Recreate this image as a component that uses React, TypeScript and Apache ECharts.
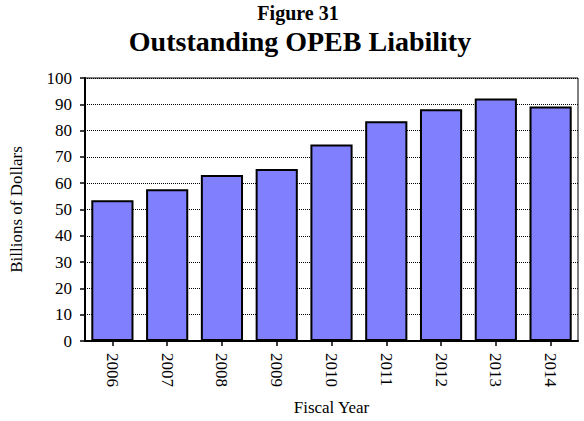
import React, { useEffect, useRef } from "react";
import * as echarts from "echarts";

const categories = ["2006", "2007", "2008", "2009", "2010", "2011", "2012", "2013", "2014"];
const liability = [53.5, 57.7, 63.1, 65.4, 74.7, 83.6, 88.1, 92.2, 89.2];
const yTicks = { min: 0, max: 100, interval: 10 };

const FONT = "'Liberation Serif', 'Times New Roman', serif";

export default function App() {
  const ref = useRef<HTMLDivElement>(null);
  useEffect(() => {
    const chart = echarts.init(ref.current!, undefined, { renderer: "svg" });
    chart.setOption({
      animation: false,
      backgroundColor: "#ffffff",
      textStyle: { fontFamily: FONT },
      graphic: [
        {
          type: "text",
          x: 298,
          y: 13,
          style: {
            text: "Figure 31",
            font: `bold 20px ${FONT}`,
            fill: "#000",
            textAlign: "center",
            textVerticalAlign: "middle",
          },
        },
        {
          type: "text",
          x: 300,
          y: 41,
          style: {
            text: "Outstanding OPEB Liability",
            font: `bold 28px ${FONT}`,
            fill: "#000",
            textAlign: "center",
            textVerticalAlign: "middle",
          },
        },
      ],
      grid: {
        left: 85,
        right: 6,
        top: 78,
        bottom: 74,
        show: true,
        borderColor: "#000",
        borderWidth: 1,
        backgroundColor: "transparent",
      },
      xAxis: {
        type: "category",
        data: categories,
        name: "Fiscal Year",
        nameLocation: "middle",
        nameGap: 58,
        nameTextStyle: { fontFamily: FONT, fontSize: 17, color: "#000" },
        axisLine: { show: true, lineStyle: { color: "#000", width: 2 } },
        axisTick: { show: true, alignWithLabel: true, length: 5, lineStyle: { color: "#000", width: 1.5 } },
        axisLabel: { rotate: -90, margin: 12, fontFamily: FONT, fontSize: 17, color: "#000" },
        splitLine: { show: false },
      },
      yAxis: {
        type: "value",
        min: yTicks.min,
        max: yTicks.max,
        interval: yTicks.interval,
        name: "Billions of Dollars",
        nameLocation: "middle",
        nameGap: 60,
        nameRotate: 90,
        nameTextStyle: { fontFamily: FONT, fontSize: 17, color: "#000" },
        axisLine: { show: true, lineStyle: { color: "#000", width: 2 } },
        axisTick: { show: true, length: 5, lineStyle: { color: "#000", width: 1.5 } },
        axisLabel: { margin: 13, fontFamily: FONT, fontSize: 17, color: "#000" },
        splitLine: { show: true, lineStyle: { color: "#000", width: 1, type: [1, 1] } },
      },
      series: [
        {
          type: "bar",
          data: liability,
          barCategoryGap: "23%",
          itemStyle: { color: "#8080FF", borderColor: "#000", borderWidth: 2 },
        },
      ],
    });
    return () => chart.dispose();
  }, []);
  return (
    <div
      ref={ref}
      style={{ position: "fixed", left: 0, top: 0, width: 584, height: 421 }}
    />
  );
}
